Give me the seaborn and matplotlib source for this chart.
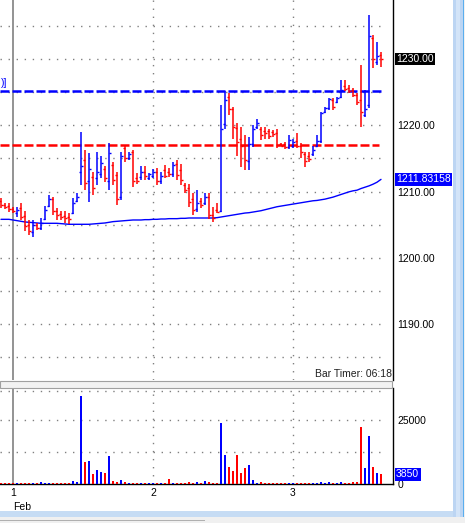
import numpy as np
import pandas as pd
import matplotlib
matplotlib.use("Agg")
import matplotlib.pyplot as plt
import matplotlib.transforms as mtransforms
from matplotlib.patches import Rectangle
import seaborn as sns

# ---------------- data ----------------
opens = [1208.6, 1208.0, 1207.8, 1207.4, 1206.8, 1207.5, 1206.3, 1205.0, 1203.9, 1205.0,
         1204.5, 1205.9, 1207.8, 1208.9, 1207.0, 1206.6, 1206.3, 1206.2, 1206.8, 1208.6,
         1212.9, 1214.7, 1211.6, 1212.2, 1212.0, 1212.6, 1213.4, 1211.6, 1214.0, 1212.5,
         1209.2, 1216.6, 1215.0, 1215.9, 1212.0, 1212.2, 1213.0, 1212.1, 1212.4, 1212.9,
         1211.6, 1213.3, 1213.0, 1212.7, 1214.2, 1213.2, 1211.0, 1210.5, 1208.8, 1207.3,
         1208.6, 1208.3, 1209.1, 1206.5, 1207.2, 1207.0, 1220.2, 1224.3, 1222.5, 1219.6,
         1218.0, 1217.0, 1214.6, 1217.2, 1219.8, 1219.4, 1219.2, 1219.2, 1219.0, 1218.8,
         1217.2, 1217.1, 1216.7, 1216.8, 1217.6, 1216.9, 1215.6, 1215.4, 1215.6, 1216.9,
         1217.6, 1222.0, 1222.6, 1223.8, 1223.5, 1224.2, 1226.0, 1225.6, 1225.3, 1224.6,
         1223.8, 1221.5, 1223.0, 1233.2, 1229.6, 1230.6]
highs = [1209.0, 1208.2, 1208.3, 1207.6, 1207.6, 1208.3, 1207.1, 1205.7, 1205.7, 1205.3,
         1206.0, 1207.8, 1209.5, 1209.2, 1207.5, 1207.1, 1207.1, 1206.8, 1209.0, 1209.7,
         1219.0, 1216.3, 1215.8, 1213.0, 1215.9, 1215.3, 1213.8, 1217.3, 1214.4, 1213.0,
         1216.0, 1217.0, 1216.0, 1216.3, 1212.8, 1213.8, 1213.8, 1212.8, 1213.4, 1213.5,
         1213.0, 1214.0, 1213.5, 1214.5, 1214.7, 1214.1, 1211.3, 1211.2, 1209.7, 1210.2,
         1209.0, 1209.8, 1209.8, 1207.7, 1208.2, 1223.1, 1225.1, 1224.8, 1222.8, 1220.3,
         1219.8, 1218.5, 1218.3, 1220.0, 1221.0, 1219.8, 1219.8, 1219.5, 1219.3, 1219.5,
         1217.3, 1217.5, 1218.5, 1218.0, 1218.8, 1217.3, 1216.0, 1216.0, 1216.8, 1218.5,
         1222.0, 1222.8, 1224.1, 1224.1, 1224.3, 1226.8, 1226.8, 1226.1, 1225.6, 1224.8,
         1229.1, 1225.3, 1236.6, 1233.6, 1232.6, 1231.1]
lows = [1207.5, 1207.3, 1206.9, 1206.8, 1206.2, 1205.7, 1204.0, 1203.4, 1203.2, 1204.2,
        1204.2, 1205.7, 1207.6, 1206.4, 1205.7, 1205.7, 1205.3, 1205.1, 1206.6, 1208.4,
        1211.0, 1210.2, 1208.4, 1209.5, 1211.0, 1212.0, 1211.5, 1210.2, 1211.0, 1208.0,
        1208.7, 1214.5, 1214.7, 1210.7, 1211.2, 1211.8, 1211.8, 1211.8, 1212.0, 1211.0,
        1211.2, 1212.0, 1212.2, 1212.2, 1211.8, 1211.0, 1209.8, 1207.6, 1206.4, 1206.9,
        1207.5, 1208.0, 1205.9, 1205.4, 1206.8, 1206.9, 1219.5, 1221.5, 1218.0, 1215.3,
        1213.7, 1213.2, 1213.2, 1216.7, 1219.5, 1217.8, 1218.0, 1218.0, 1218.3, 1216.5,
        1216.8, 1216.4, 1216.4, 1216.5, 1216.5, 1215.0, 1213.7, 1214.5, 1215.3, 1216.7,
        1217.3, 1221.8, 1222.3, 1222.3, 1223.3, 1224.1, 1225.1, 1224.8, 1224.3, 1223.1,
        1219.8, 1221.3, 1222.6, 1228.6, 1229.1, 1228.8]
closes = [1207.9, 1207.6, 1207.3, 1207.0, 1207.2, 1206.2, 1204.8, 1204.0, 1205.0, 1204.5,
          1205.3, 1207.2, 1208.9, 1207.0, 1206.4, 1206.1, 1206.0, 1205.9, 1208.3, 1209.2,
          1213.8, 1211.3, 1213.4, 1210.6, 1212.9, 1214.3, 1212.0, 1215.8, 1211.8, 1208.8,
          1215.3, 1215.0, 1215.6, 1211.6, 1211.6, 1213.0, 1212.3, 1212.6, 1212.9, 1211.6,
          1212.4, 1212.4, 1212.6, 1214.0, 1212.5, 1211.8, 1210.2, 1208.4, 1207.2, 1208.2,
          1208.0, 1209.2, 1206.4, 1206.0, 1206.9, 1219.5, 1223.8, 1222.4, 1219.8, 1217.4,
          1216.8, 1214.8, 1217.2, 1219.5, 1220.4, 1218.6, 1218.8, 1218.4, 1218.7, 1217.0,
          1216.9, 1216.7, 1217.8, 1217.4, 1216.9, 1215.9, 1214.6, 1214.9, 1216.3, 1217.6,
          1221.8, 1222.6, 1223.9, 1222.8, 1224.1, 1225.3, 1225.4, 1225.2, 1224.6, 1223.5,
          1222.0, 1222.5, 1233.5, 1230.0, 1230.5, 1230.0]
ma_values = [1205.8, 1205.8, 1205.8, 1205.7, 1205.6, 1205.5, 1205.4, 1205.35, 1205.3, 1205.25,
             1205.2, 1205.2, 1205.2, 1205.2, 1205.2, 1205.15, 1205.1, 1205.05, 1205.05, 1205.05,
             1205.05, 1205.05, 1205.05, 1205.1, 1205.15, 1205.2, 1205.25, 1205.35, 1205.45, 1205.5,
             1205.55, 1205.6, 1205.65, 1205.7, 1205.7, 1205.7, 1205.75, 1205.75, 1205.8, 1205.8,
             1205.85, 1205.85, 1205.9, 1205.9, 1205.9, 1205.95, 1205.95, 1206.0, 1206.0, 1206.0,
             1206.0, 1206.0, 1206.0, 1206.0, 1206.05, 1206.15, 1206.25, 1206.35, 1206.45, 1206.55,
             1206.65, 1206.75, 1206.8, 1206.9, 1207.0, 1207.1, 1207.25, 1207.4, 1207.55, 1207.7,
             1207.8, 1207.9, 1208.0, 1208.1, 1208.2, 1208.3, 1208.4, 1208.5, 1208.6, 1208.65,
             1208.75, 1208.85, 1209.0, 1209.15, 1209.35, 1209.55, 1209.75, 1209.95, 1210.1, 1210.2,
             1210.45, 1210.65, 1210.85, 1211.1, 1211.4, 1211.83]
volumes = [500, 500, 500, 500, 500, 500, 500, 500, 500, 500,
           900, 500, 500, 500, 500, 500, 500, 500, 1300, 900,
           34300, 8700, 9100, 4000, 5600, 4800, 4400, 11000, 1300, 900,
           1700, 900, 500, 500, 500, 500, 500, 500, 500, 500,
           500, 500, 2100, 500, 500, 500, 500, 900, 500, 900,
           500, 1300, 900, 500, 500, 23800, 11400, 6700, 5200, 11400,
           4400, 6300, 7500, 1700, 500, 900, 500, 500, 500, 500,
           500, 500, 500, 500, 500, 500, 500, 500, 500, 500,
           900, 500, 900, 500, 500, 900, 500, 500, 900, 900,
           22300, 6300, 18800, 6700, 4400, 3850]

day_labels = ["1", "2", "3"]
day_bar_index = [3, 38, 73]
month_label = "Feb"
price_ticks = [1190, 1200, 1210, 1220, 1230]
price_grid = [1185, 1190, 1195, 1200, 1205, 1210, 1215, 1220, 1225, 1230, 1235]
vol_ticks = [0, 25000]
vol_grid = [12500, 25000, 36400]
blue_level = 1225.2
red_level = 1217.0
last_price = 1230.00
ma_last = 1211.83158
last_volume = 3850
bar_timer = "Bar Timer: 06:18"
line_tag = ")]"

# ---------------- style ----------------
sns.set_style("white")
plt.rcParams['font.family'] = ['Liberation Sans', 'DejaVu Sans']

BLUE = "#0000ff"
RED = "#ff0000"
GRID = "#808080"
FS = 7.5
DOT = (0, (1, 4.8))

W, H = 465, 523
fig = plt.figure(figsize=(W / 100, H / 100), dpi=100)
fig.patch.set_facecolor("white")


def fx(px):
    return px / W


def fy(py):
    return 1 - py / H


axp = fig.add_axes([0, fy(380), fx(393), 380 / H])
axv = fig.add_axes([0, fy(484.3), fx(393), 96.3 / H])

n = len(opens)
idx = np.arange(n)
o = np.array(opens)
h = np.array(highs)
l = np.array(lows)
c = np.array(closes)
direction = np.where(c > o, "up", "down")
colors = np.where(direction == "up", BLUE, RED)

XL = (-0.25, 98.0)
GRID_END = 95.5

# ---------------- price panel ----------------
for p in price_grid:
    axp.plot([XL[0], GRID_END], [p, p], ls=DOT, color=GRID, lw=1.0, zorder=1)
axp.axvline(day_bar_index[0], color=GRID, lw=1.2, zorder=1)
for d in day_bar_index[1:]:
    axp.axvline(d, color=GRID, lw=1.0, ls=DOT, zorder=1)

axp.plot([XL[0], 95.3], [blue_level, blue_level], color=BLUE, lw=1.8,
         dashes=(3.6, 1.2), zorder=3)
axp.plot([XL[0], 94.5], [red_level, red_level], color=RED, lw=1.8,
         dashes=(3.6, 1.2), zorder=3)

df_ma = pd.DataFrame({"i": idx, "ma": ma_values})
sns.lineplot(data=df_ma, x="i", y="ma", ax=axp, color=BLUE, lw=1.0, zorder=2)

axp.vlines(idx, l, h, colors=colors, lw=1.1, zorder=4)
axp.hlines(o, idx - 0.45, idx, colors=colors, lw=1.0, zorder=4)
axp.hlines(c, idx, idx + 0.45, colors=colors, lw=1.0, zorder=4)

axp.set_xlim(*XL)
axp.set_ylim(1230 - (380 - 59) / 6.625, 1230 + 59 / 6.625)
axp.set_xlabel("")
axp.set_ylabel("")
axp.set_xticks([])
axp.yaxis.tick_right()
axp.set_yticks(price_ticks)
axp.set_yticklabels([f"{v:.2f}" for v in price_ticks])
axp.tick_params(axis="y", length=0, pad=3, labelsize=FS, labelcolor="black")
for s in ["top", "left", "bottom"]:
    axp.spines[s].set_visible(False)
axp.spines["right"].set_color("black")
axp.spines["right"].set_linewidth(1.0)

tp = mtransforms.blended_transform_factory(axp.transAxes, axp.transData)
axp.text(1.008, last_price, f"{last_price:.2f}", transform=tp, ha="left", va="center",
         color="white", fontsize=FS, clip_on=False, zorder=10,
         bbox=dict(boxstyle="square,pad=0.12", fc="black", ec="none"))
axp.text(1.008, ma_last, f"{ma_last:.5f}", transform=tp, ha="left", va="center",
         color="white", fontsize=FS, clip_on=False, zorder=10,
         bbox=dict(boxstyle="square,pad=0.12", fc=BLUE, ec="none"))
axp.text(0.003, 1230 - (83 - 59) / 6.625, line_tag, transform=tp, ha="left", va="center",
         color=BLUE, fontsize=FS, clip_on=False, zorder=10)
axp.text(0.997, 0.016, bar_timer, transform=axp.transAxes, ha="right", va="center",
         color="#202020", fontsize=FS, zorder=10)

# ---------------- volume panel ----------------
for v in vol_grid:
    axv.plot([XL[0], GRID_END], [v, v], ls=DOT, color=GRID, lw=1.0, zorder=1)
axv.axvline(day_bar_index[0], color=GRID, lw=1.2, zorder=1)
for d in day_bar_index[1:]:
    axv.axvline(d, color=GRID, lw=1.0, ls=DOT, zorder=1)

df_v = pd.DataFrame({"i": idx, "vol": volumes, "dir": direction})
sns.barplot(data=df_v, x="i", y="vol", hue="dir", palette={"up": BLUE, "down": RED},
            native_scale=True, width=0.35, dodge=False, errorbar=None, saturation=1,
            linewidth=0, legend=False, ax=axv, zorder=3)

axv.set_xlim(*XL)
axv.set_ylim(0, 25000 * 96.3 / 64.3)
axv.set_xlabel("")
axv.set_ylabel("")
axv.yaxis.tick_right()
axv.set_yticks(vol_ticks)
axv.set_yticklabels([str(v) for v in vol_ticks])
axv.set_xticks(day_bar_index)
axv.set_xticklabels(day_labels)
axv.tick_params(axis="y", length=0, pad=3, labelsize=FS, labelcolor="black")
axv.tick_params(axis="x", length=0, pad=2.5, labelsize=FS, labelcolor="black")
for s in ["top", "left"]:
    axv.spines[s].set_visible(False)
for s in ["right", "bottom"]:
    axv.spines[s].set_color("black")
    axv.spines[s].set_linewidth(1.0)

tv = mtransforms.blended_transform_factory(axv.transAxes, axv.transData)
axv.text(1.008, last_volume, str(last_volume), transform=tv, ha="left", va="center",
         color="white", fontsize=FS, clip_on=False, zorder=10,
         bbox=dict(boxstyle="square,pad=0.12", fc=BLUE, ec="none"))
tf = mtransforms.blended_transform_factory(axv.transData, axv.transAxes)
axv.text(day_bar_index[0] + 0.05, (484.3 - 507) / 96.3, month_label, transform=tf,
         ha="left", va="center", color="black", fontsize=FS, clip_on=False)

# ---------------- window chrome ----------------
fig.add_artist(Rectangle((0, fy(388)), fx(392), 7.5 / H, transform=fig.transFigure,
                         fc="#f2f2f2", ec="#a0a0a0", lw=0.8))
fig.add_artist(Rectangle((0, 0), 1, 6 / H, transform=fig.transFigure,
                         fc="#f0f0f0", ec="none"))
fig.add_artist(Rectangle((0, fy(517)), fx(463), 6 / H, transform=fig.transFigure,
                         fc="#c6dcf4", ec="none"))
fig.add_artist(Rectangle((0, fy(521)), fx(205), 1.2 / H, transform=fig.transFigure,
                         fc="#b0b0b0", ec="none"))
fig.add_artist(Rectangle((fx(452.5), fy(517)), fx(10.5), 517 / H, transform=fig.transFigure,
                         fc="#bcd5f3", ec="none"))
fig.add_artist(Rectangle((fx(455.5), fy(517)), fx(4.5), 517 / H, transform=fig.transFigure,
                         fc="#d3e4f8", ec="none"))
fig.add_artist(Rectangle((fx(462.5), fy(517)), fx(1.0), 517 / H, transform=fig.transFigure,
                         fc="#5aaeee", ec="none"))
fig.add_artist(Rectangle((fx(463.5), 0), fx(1.5), 1, transform=fig.transFigure,
                         fc="#f0f0f0", ec="none"))

fig.savefig("out.png", dpi=100, facecolor=fig.get_facecolor())
